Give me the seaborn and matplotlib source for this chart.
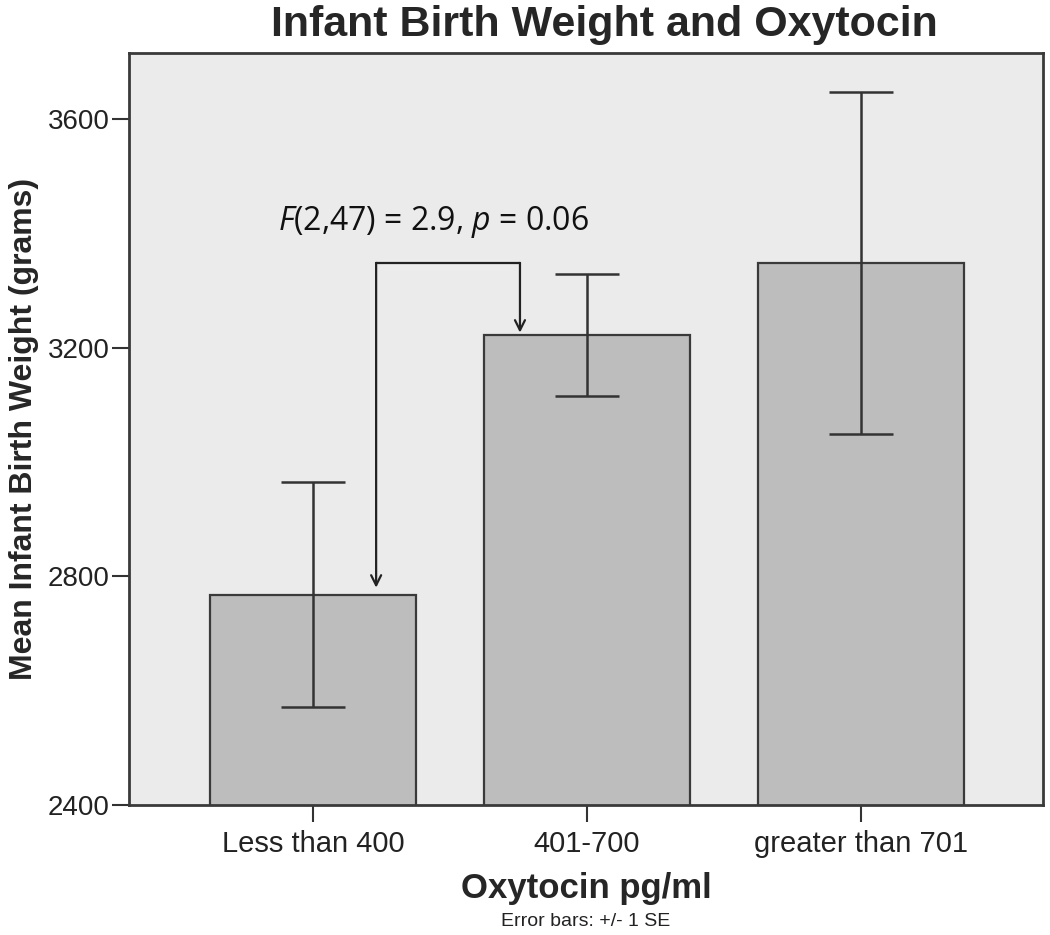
import matplotlib
matplotlib.use("Agg")
import matplotlib.pyplot as plt
import seaborn as sns
import pandas as pd
import numpy as np

categories = ["Less than 400", "401-700", "greater than 701"]
means = [2768, 3222, 3348]
se = [197, 107, 299]
yticks = [2400, 2800, 3200, 3600]

sns.set_theme(style="white")
narrow = ["Liberation Sans Narrow", "Liberation Sans", "DejaVu Sans"]
plt.rcParams["font.family"] = ["Liberation Sans", "DejaVu Sans"]
plt.rcParams["mathtext.fontset"] = "custom"
plt.rcParams["mathtext.it"] = "Open Sans:italic"
plt.rcParams["mathtext.rm"] = "Open Sans"

df = pd.DataFrame({"group": categories, "weight": means})

fig = plt.figure(figsize=(10.5, 9.35), dpi=100)
ax = fig.add_axes([129/1050, 1 - 805/935, (1043-129)/1050, (805-53)/935])
ax.set_facecolor("#ebebeb")

sns.barplot(data=df, x="group", y="weight", order=categories, color="#bdbdbd",
            saturation=1, width=0.75, edgecolor="#3a3a3a", linewidth=1.6,
            errorbar=None, ax=ax, zorder=2)
ax.errorbar(np.arange(len(categories)), means, yerr=se, fmt="none",
            ecolor="#333333", elinewidth=1.8, capsize=23, capthick=1.8, zorder=3)

ax.set_ylim(2400, 3715)
ax.set_xlim(-0.672, 2.664)
ax.set_yticks(yticks)
ax.set_yticklabels([str(t) for t in yticks], fontsize=20, color="#222222")
ax.set_xticks(range(len(categories)))
ax.set_xticklabels(categories, fontsize=21, family=narrow, color="#222222")
ax.tick_params(axis="both", direction="out", length=12, width=1.5, color="#333333",
               bottom=True, left=True, pad=2)
ax.tick_params(axis="x", pad=6)
for s in ax.spines.values():
    s.set_color("#3a3a3a")
    s.set_linewidth(2)
    s.set_visible(True)

ax.set_xlabel("Oxytocin pg/ml", fontsize=25, fontweight="bold", family=narrow, labelpad=10)
ax.set_ylabel("Mean Infant Birth Weight (grams)", fontsize=23, fontweight="bold",
              family=narrow, labelpad=6)
fig.text(0.576, 0.973, "Infant Birth Weight and Oxytocin", fontsize=31,
         fontweight="bold", family=narrow, ha="center", va="center")
fig.text(0.558, 0.014, "Error bars: +/- 1 SE", fontsize=14, family=narrow,
         ha="center", va="center", color="#222222")

# significance bracket
xl, xr, ytop = 0.23, 0.755, 3348
ax.plot([xl, xr], [ytop, ytop], color="#222222", lw=1.6, zorder=4)
ax.annotate("", xy=(xl, means[0] + 12), xytext=(xl, ytop),
            arrowprops=dict(arrowstyle="->,head_length=0.6,head_width=0.3",
                            color="#222222", lw=1.6, shrinkA=0, shrinkB=0), zorder=4)
ax.annotate("", xy=(xr, means[1] + 4), xytext=(xr, ytop),
            arrowprops=dict(arrowstyle="->,head_length=0.6,head_width=0.3",
                            color="#222222", lw=1.6, shrinkA=0, shrinkB=0), zorder=4)
ax.text(-0.128, 3420, "$F$(2,47) = 2.9, $p$ = 0.06", fontsize=23, family="Open Sans",
        style="normal", ha="left", va="center", color="#111111")

fig.savefig("out.png", dpi=100)
